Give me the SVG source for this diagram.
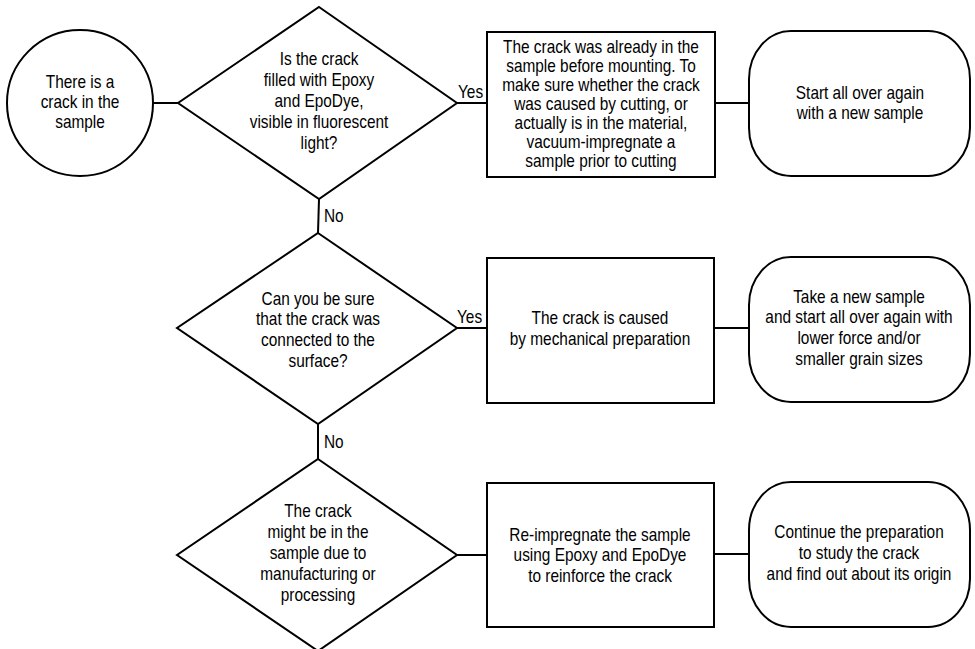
<svg xmlns="http://www.w3.org/2000/svg" width="975" height="649" viewBox="0 0 975 649">
<style>
.s{fill:#fff;stroke:#000;stroke-width:2}
.c{fill:none;stroke:#000;stroke-width:2}
text{font-family:"Liberation Sans",Arial,sans-serif;font-size:17.5px;fill:#000;text-anchor:middle}
.l{text-anchor:start}
</style>
<rect width="975" height="649" fill="#fff"/>
<g id="connectors">
<line class="c" x1="153" y1="103" x2="178" y2="103"/>
<line class="c" x1="457" y1="103" x2="488" y2="103"/>
<line class="c" x1="715" y1="103" x2="749" y2="103"/>
<line class="c" x1="319" y1="199" x2="318" y2="233"/>
<line class="c" x1="457" y1="328" x2="487" y2="328"/>
<line class="c" x1="714" y1="328" x2="749" y2="328"/>
<line class="c" x1="318" y1="424" x2="318" y2="459"/>
<line class="c" x1="457" y1="555" x2="487" y2="555"/>
<line class="c" x1="714" y1="554" x2="749" y2="554"/>
<g transform="translate(458,0) scale(0.88,1)"><text class="l" x="0" y="98">Yes</text></g>
<g transform="translate(457,0) scale(0.88,1)"><text class="l" x="0" y="323">Yes</text></g>
<g transform="translate(324,0) scale(0.88,1)"><text class="l" x="0" y="222">No</text></g>
<g transform="translate(324,0) scale(0.88,1)"><text class="l" x="0" y="448">No</text></g>
</g>
<g id="start">
<circle class="s" cx="80" cy="103" r="73"/>
<g transform="translate(80,0) scale(0.88,1)">
<text x="0" y="88">There is a</text>
<text x="0" y="108">crack in the</text>
<text x="0" y="128">sample</text>
</g>
</g>
<g id="q1">
<polygon class="s" points="319,7 457,103 319,199 178,103"/>
<g transform="translate(319,0) scale(0.88,1)">
<text x="0" y="65">Is the crack</text>
<text x="0" y="86">filled with Epoxy</text>
<text x="0" y="107">and EpoDye,</text>
<text x="0" y="128">visible in fluorescent</text>
<text x="0" y="149">light?</text>
</g>
</g>
<g id="box1">
<rect class="s" x="487" y="32" width="228" height="145"/>
<g transform="translate(601,0) scale(0.88,1)">
<text x="0" y="53">The crack was already in the</text>
<text x="0" y="72">sample before mounting. To</text>
<text x="0" y="91">make sure whether the crack</text>
<text x="0" y="110">was caused by cutting, or</text>
<text x="0" y="129">actually is in the material,</text>
<text x="0" y="148">vacuum-impregnate a</text>
<text x="0" y="167">sample prior to cutting</text>
</g>
</g>
<g id="end1">
<rect class="s" x="749" y="31" width="221" height="145" rx="42" ry="48"/>
<g transform="translate(860,0) scale(0.88,1)">
<text x="0" y="99">Start all over again</text>
<text x="0" y="119">with a new sample</text>
</g>
</g>
<g id="q2">
<polygon class="s" points="318,233 457,328 318,424 177,328"/>
<g transform="translate(318,0) scale(0.88,1)">
<text x="0" y="305">Can you be sure</text>
<text x="0" y="325">that the crack was</text>
<text x="0" y="346">connected to the</text>
<text x="0" y="367">surface?</text>
</g>
</g>
<g id="box2">
<rect class="s" x="487" y="258" width="227" height="145"/>
<g transform="translate(600,0) scale(0.88,1)">
<text x="0" y="324">The crack is caused</text>
<text x="0" y="345">by mechanical preparation</text>
</g>
</g>
<g id="end2">
<rect class="s" x="749" y="257" width="221" height="145" rx="42" ry="48"/>
<g transform="translate(859,0) scale(0.88,1)">
<text x="0" y="303">Take a new sample</text>
<text x="0" y="323">and start all over again with</text>
<text x="0" y="344">lower force and/or</text>
<text x="0" y="365">smaller grain sizes</text>
</g>
</g>
<g id="q3">
<polygon class="s" points="318,459 457,555 318,651 177,555"/>
<g transform="translate(318,0) scale(0.88,1)">
<text x="0" y="517">The crack</text>
<text x="0" y="538">might be in the</text>
<text x="0" y="559">sample due to</text>
<text x="0" y="580">manufacturing or</text>
<text x="0" y="601">processing</text>
</g>
</g>
<g id="box3">
<rect class="s" x="487" y="483" width="227" height="144"/>
<g transform="translate(600,0) scale(0.88,1)">
<text x="0" y="541">Re-impregnate the sample</text>
<text x="0" y="561">using Epoxy and EpoDye</text>
<text x="0" y="582">to reinforce the crack</text>
</g>
</g>
<g id="end3">
<rect class="s" x="749" y="482" width="221" height="145" rx="42" ry="48"/>
<g transform="translate(859,0) scale(0.88,1)">
<text x="0" y="538">Continue the preparation</text>
<text x="0" y="559">to study the crack</text>
<text x="0" y="580">and find out about its origin</text>
</g>
</g>
</svg>
